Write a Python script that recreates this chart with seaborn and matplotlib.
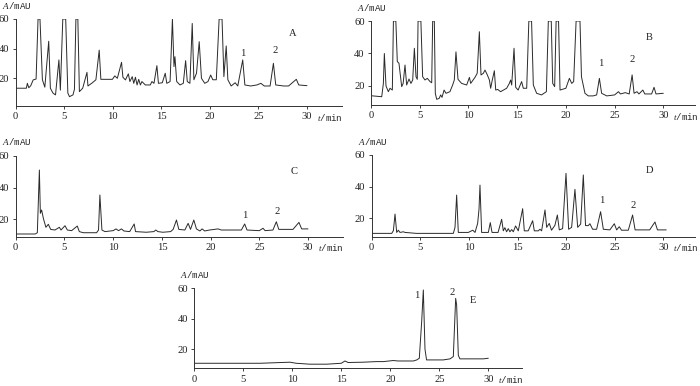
import matplotlib
matplotlib.use("Agg")
import matplotlib.pyplot as plt
import pandas as pd
import seaborn as sns

# chromatogram traces (time in min, absorbance in mAU)
a_t = [0, 1.1, 1.2, 1.35, 1.55, 1.8, 2.1, 2.3, 2.5, 2.75, 3.0, 3.4, 3.57, 3.84, 4.1, 4.45, 4.6, 4.85, 5.15,
       5.37, 5.54, 5.9, 6.05, 6.2, 6.4, 6.56, 6.9, 7.34, 7.44, 7.9, 8.26, 8.6, 8.77, 9.28, 9.96, 10.2, 10.47,
       10.9, 11.04, 11.3, 11.6, 11.76, 12.0, 12.16, 12.33, 12.5, 12.67, 12.84, 13.0, 13.35, 13.86, 14.03,
       14.24, 14.54, 14.7, 15.1, 15.4, 15.56, 15.9, 16.14, 16.3, 16.4, 16.58, 16.92, 17.26, 17.5, 17.67,
       17.94, 18.18, 18.35, 18.62, 18.9, 19.13, 19.47, 19.8, 20.08, 20.3, 20.66, 20.95, 21.25, 21.44, 21.68,
       21.85, 22.19, 22.6, 22.87, 23.38, 23.6, 24.2, 24.84, 25.25, 25.6, 26.2, 26.54, 26.78, 27.6, 28.1,
       28.9, 29.15, 30]
a_v = [13.3, 13.3, 16.6, 13.6, 15, 18.9, 19.5, 60, 60, 19, 14, 45, 13.3, 10, 8.8, 32.4, 12, 60, 60,
       10, 7.6, 8.8, 12.6, 60, 60, 11, 13.3, 24, 14.8, 17, 19, 39, 19.3, 19.3, 19.3, 21.6, 20,
       30.8, 20.7, 18.9, 23, 17.8, 21.1, 16.6, 20.7, 15.5, 19.3, 15.5, 17.8, 15.5, 15.5, 17.8,
       16.6, 28.5, 16.6, 17, 23.4, 16.6, 17.8, 60, 27.9, 34.6, 17.8, 15.5, 16.6, 31.9, 17.8,
       16.6, 57, 19, 23.4, 44.7, 20, 16.6, 17.8, 22.2, 19, 19, 60, 60, 21.1, 41.8,
       19, 14.8, 17, 14.8, 32.4, 15.5, 14.8, 15.5, 16.6, 14.8, 14.8, 30.1, 15.5, 14.8, 14.8,
       19.3, 15.5, 15]

b_t = [0, 1.1, 1.27, 1.37, 1.54, 1.78, 1.95, 2.19, 2.3, 2.55, 2.7, 2.87, 3.05, 3.15, 3.3, 3.49, 3.66, 3.9,
       4.1, 4.28, 4.45, 4.62, 4.75, 4.83, 5.12, 5.3, 5.54, 5.78, 6.06, 6.23, 6.33, 6.5, 6.6, 6.74, 7.0,
       7.15, 7.29, 7.5, 7.7, 8.1, 8.38, 8.55, 8.72, 8.93, 9.3, 9.82, 10.1, 10.23, 10.67, 10.9, 11.12,
       11.29, 11.53, 11.7, 11.94, 12.15, 12.28, 12.45, 12.66, 12.8, 13.0, 13.3, 13.92, 14.2, 14.33,
       14.44, 14.68, 14.85, 15.1, 15.46, 15.63, 15.98, 16.2, 16.48, 16.66, 17.0, 17.5, 18.0, 18.2,
       18.5, 18.65, 18.85, 19.0, 19.25, 19.4, 20.0, 20.36, 20.6, 20.8, 21.05, 21.45, 21.6, 21.96,
       22.3, 22.8, 23.16, 23.44, 23.67, 24.2, 25.0, 25.4, 25.6, 26.1, 26.5, 26.8, 27.0, 27.3, 27.5,
       27.9, 28.1, 28.8, 29.05, 29.25, 30]
b_v = [14, 13.4, 21.6, 40, 20, 16.5, 18.6, 17.5, 60, 60, 35, 34, 24.7, 19.6, 21.6, 32.9, 20.6, 24.3,
       21.6, 23.7, 43.2, 25.7, 24.1, 60, 60, 25.7, 23.7, 24.7, 22.7, 22, 60, 60, 15.5, 11.8, 12.4,
       14.5, 13, 17.5, 15.5, 16.5, 20.6, 23.7, 41, 24.1, 21.6, 20.6, 25.3, 21.6, 25.3, 27.8, 53.4,
       26.8, 27.8, 29.8, 26.8, 23.7, 18.6, 23.7, 29.4, 17.5, 17.9, 16.5, 18.6, 21.6, 23.7,
       20.6, 43.2, 19.2, 17.5, 22.7, 18.6, 18.6, 60, 60, 20.6, 15.5, 14.5, 16.5, 60,
       60, 21.6, 19.6, 60, 60, 17.5, 18.6, 24.7, 21.6, 22.7, 60, 60, 25.7, 15.5,
       13.9, 13.9, 14.5, 24.7, 15.5, 13.9, 14.5, 16.5, 15.1, 15.9, 15.1, 26.8, 15.5, 16.5, 15.1,
       17.5, 15.1, 15.1, 19.2, 15.1, 15.5]

c_t = [0, 2.0, 2.22, 2.43, 2.53, 2.66, 2.84, 3.1, 3.35, 3.59, 4.03, 4.48, 4.65, 5.06, 5.3, 5.74, 6.32,
       6.53, 6.94, 8.3, 8.5, 8.64, 8.85, 9.16, 10.0, 10.3, 10.55, 10.86, 11.1, 11.7, 12.16, 12.3, 13.4,
       14.18, 14.38, 14.6, 15.1, 15.9, 16.16, 16.5, 16.74, 17.36, 17.7, 17.94, 18.28, 18.55, 18.9,
       19.13, 19.4, 19.9, 20.77, 21.1, 22.3, 23.16, 23.5, 23.74, 25.0, 25.38, 25.6, 26.4, 26.75, 27.0,
       28.46, 29.07, 29.35, 30.0]
c_v = [10.8, 10.8, 11.6, 51, 23.8, 25.9, 20.6, 15, 16.9, 13.7, 13.3, 15, 13.3, 16, 13.3, 12.9, 15.8,
       12.3, 11.6, 11.6, 13.3, 35.3, 13.3, 12.3, 12.9, 14, 12.9, 14, 12.7, 12.3, 17.1, 12.3, 11.9,
       12.3, 13.3, 12.3, 11.9, 12.3, 13.7, 19.6, 13.7, 13.3, 17.5, 13.7, 19.6, 14, 12.7,
       14, 12.7, 13.3, 14, 13.3, 13.3, 13.3, 17.1, 13.3, 12.9, 14.4, 12.9, 13.3, 18.5, 13.7,
       13.7, 18.1, 14, 14]

d_t = [0, 2.06, 2.23, 2.4, 2.57, 2.74, 2.91, 3.26, 3.43, 4.6, 8.4, 8.57, 8.74, 8.91, 9.94, 10.4, 10.63,
       10.9, 11.04, 11.14, 11.31, 12.0, 12.2, 12.38, 13.0, 13.37, 13.54, 13.7, 13.88, 14.05, 14.22,
       14.4, 14.57, 14.8, 15.08, 15.53, 15.7, 16.1, 16.56, 16.73, 17.14, 17.31, 17.48, 17.83, 18.0,
       18.27, 18.5, 18.85, 19.1, 19.3, 19.64, 19.99, 20.26, 20.57, 20.91, 21.19, 21.5, 21.77, 22.0,
       22.28, 22.45, 22.73, 23.14, 23.55, 23.83, 24.5, 24.96, 25.2, 25.47, 25.7, 26.4, 26.84, 27.1,
       28.6, 29.14, 29.4, 30.3]
d_v = [10.5, 10.5, 12.2, 22.7, 11.1, 12.5, 11.1, 11.5, 11.1, 10.5, 10.5, 14.3, 34.7, 11.1, 11.1, 12.5, 11.1,
       16.8, 25.7, 41, 11.1, 11.1, 17.3, 11.1, 11.1, 19.4, 12.1, 14.1, 11.5, 13.5, 11.5,
       12.9, 11.5, 15.2, 12.1, 26.1, 12.1, 12.1, 18.5, 12.1, 12.1, 13.1, 12.1, 25.3, 14.3,
       16.8, 12.5, 15.6, 22.1, 12.7, 13.5, 48.4, 13.1, 14.3, 38.3, 14.3, 16.4, 47.4, 15.4,
       15.4, 16.6, 13.1, 13.1, 24.2, 13.1, 12.7, 16.6, 12.7, 14.7, 12.5, 12.5, 22.1, 12.7,
       12.7, 17.7, 12.7, 12.7]

e_t = [0, 6.7, 9.76, 10.4, 11.8, 13.5, 15.0, 15.37, 15.7, 17.2, 18.6, 19.3, 20.3, 20.8, 21.3, 22.35,
       22.7, 22.96, 23.2, 23.37, 23.54, 23.7, 25.4, 26.1, 26.43, 26.67, 26.77, 26.94, 27.1, 29.5, 30.0]
e_v = [10.8, 10.8, 11.5, 10.8, 10.2, 10.2, 10.8, 12.3, 11.3, 11.5, 11.9, 11.9, 12.6, 12.3, 12.3, 12.3,
       13, 14.1, 38, 58.9, 20, 13, 13, 13.7, 15.2, 53.4, 49, 16, 13.7, 13.7, 14.1]

# peak labels: (text, time, value)
a_marks = [("1", 23.4, 37), ("2", 26.7, 39), ("A", 28.5, 50)]
b_marks = [("1", 23.6, 34), ("2", 26.85, 36), ("B", 28.6, 49.7)]
c_marks = [("1", 23.5, 22.3), ("2", 26.8, 25.2), ("C", 28.6, 50)]
d_marks = [("1", 23.65, 31), ("2", 26.9, 27.8), ("D", 28.6, 50)]
e_marks = [("1", 22.7, 55.6), ("2", 26.3, 57), ("E", 28.4, 52)]

x_ticks = [0, 5, 10, 15, 20, 25, 30]
y_ticks = [20, 40, 60]

sns.set_style("ticks")
plt.rcParams["font.family"] = ["Liberation Serif", "DejaVu Serif"]
plt.rcParams["mathtext.fontset"] = "custom"
plt.rcParams["mathtext.rm"] = "Liberation Serif"
plt.rcParams["mathtext.it"] = "Liberation Serif:italic"

W, H = 700, 386
fig = plt.figure(figsize=(7, 3.86), dpi=100)


def panel(t, v, marks, x0, x30, right, top, bottom, ymin):
    # axes box in pixels -> figure fraction
    ax = fig.add_axes([x0 / W, 1 - bottom / H, (right - x0) / W, (bottom - top) / H])
    df = pd.DataFrame({"t": t, "v": v})
    sns.lineplot(data=df, x="t", y="v", ax=ax, estimator=None, sort=False,
                 color="#2a2a2a", linewidth=0.7)
    ax.set_xlim(0, 30 * (right - x0) / (x30 - x0))
    ax.set_ylim(ymin, 60)
    ax.set_xticks(x_ticks)
    ax.set_yticks(y_ticks)
    ax.set_xlabel("")
    ax.set_ylabel("")
    for s in ["top", "right"]:
        ax.spines[s].set_visible(False)
    for s in ["left", "bottom"]:
        ax.spines[s].set_linewidth(0.7)
        ax.spines[s].set_color("#333333")
    ax.tick_params(length=2.5, width=0.6, pad=2, labelsize=7.6, colors="#222222")
    ax.patch.set_alpha(0)
    for txt, mt, mv in marks:
        ax.text(mt, mv, txt, fontsize=7.6, ha="center", va="center", color="#222222")
    ax.annotate("$\\mathit{A}$/mAU", xy=(0, 1), xycoords="axes fraction",
                xytext=(-10, 10), textcoords="offset points", family="Liberation Mono",
                ha="left", va="center", fontsize=6.6, color="#222222")
    ax.annotate("$\\mathit{t}$/min", xy=(31.0, 0), xycoords=("data", "axes fraction"),
                xytext=(0, -8), textcoords="offset points", family="Liberation Mono",
                ha="left", va="center", fontsize=6.6, color="#222222")
    return ax


panel(a_t, a_v, a_marks, 15.7, 307, 342, 19, 106, 1.3)
panel(b_t, b_v, b_marks, 371, 663.3, 695, 21, 105, 8.3)
panel(c_t, c_v, c_marks, 15.7, 308, 343, 155.7, 236.7, 9.1)
panel(d_t, d_v, d_marks, 371.7, 663.3, 695, 155, 236.7, 8.4)
panel(e_t, e_v, e_marks, 194.3, 488.3, 521.7, 288.3, 368.3, 7.5)

fig.savefig("out.png", dpi=100)
